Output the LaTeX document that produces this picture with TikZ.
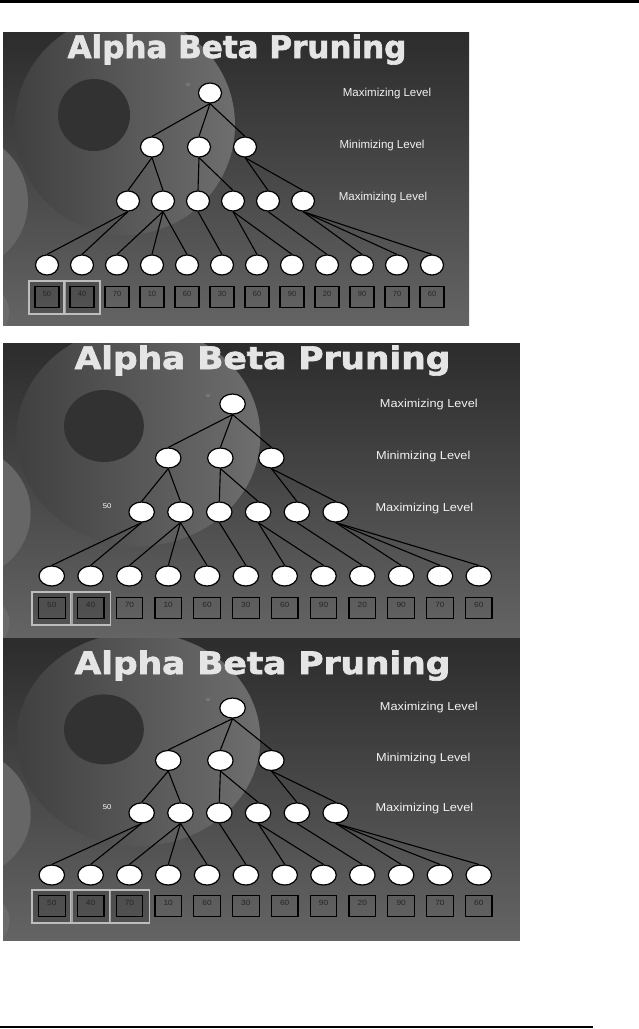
\documentclass[tikz,border=0pt]{standalone}
\usepackage{fontspec}
\setsansfont{Liberation Sans}
\newfontfamily\titlefont{DejaVu Sans Bold}[FakeBold=2]
\usetikzlibrary{shapes.geometric}
\definecolor{slidetop}{HTML}{2C2C2C}
\definecolor{slidebottom}{HTML}{646464}
\definecolor{planetlight}{HTML}{6E6E6E}
\definecolor{planetdark}{HTML}{404040}
\definecolor{craterdark}{HTML}{323232}
\definecolor{labelwhite}{HTML}{F2F2F2}
\definecolor{hlgray}{HTML}{BDBDBD}

\tikzset{
  treenode/.style={ellipse, draw=black, fill=white, line width=1.2pt, minimum width=23pt, minimum height=20pt, inner sep=0pt},
  treeedge/.style={black, line width=1.1pt},
  valbox/.style={rectangle, draw=black, line width=1.2pt, minimum width=24pt, text height=9pt, text depth=11pt, inner ysep=0.5pt, inner xsep=0pt, font=\sffamily\fontsize{7.5}{8}\selectfont, text=black!85},
  hlcell/.style={rectangle, draw=hlgray, line width=1.6pt, fill=black, fill opacity=0.15, minimum width=36pt, minimum height=33pt},
  levellabel/.style={anchor=base, text=labelwhite, font=\sffamily\fontsize{11.5}{12}\selectfont},
  slidetitle/.style={anchor=base, text=white!90!black, font=\titlefont\fontsize{31}{32}\selectfont},
}

% #1 name, #2 #3 origin, #4 #5 scale, #6 #7 top/bottom, #8 marked boxes, #9 side value
\newcommand{\abslide}[9]{%
  \begin{scope}[shift={(#2,#3)}, xscale=#4, yscale=#5]
    \begin{scope}
      \clip (0,#6) rectangle (466,#7);
      \shade[top color=slidetop, bottom color=slidebottom] (0,#6) rectangle (466,#7);
      \fill[black!60] (-45,170) circle (70);
      \fill[black!58] (-22,280) circle (28);
      \shade[left color=planetdark, right color=planetlight] (122,93) circle (110);
      \fill[craterdark] (91,83) circle (36);
    \end{scope}
    \node[slidetitle, xscale=#4] (#1title) at (234,26) {Alpha Beta Pruning};
    \node[levellabel, xscale=#4] (#1maxtop) at (384,64) {Maximizing Level};
    \node[levellabel, xscale=#4] (#1min) at (379,116) {Minimizing Level};
    \node[levellabel, xscale=#4] (#1maxmid) at (380,168) {Maximizing Level};
    \node[treenode, xscale=#4] (#1root) at (207,61) {};
    \node[font=\sffamily\fontsize{4}{4}\selectfont, text=black!40] (#1rootval) at (185,53) {50};
    \node[text=white, font=\sffamily\fontsize{7}{7}\selectfont, xscale=#4] (#1side) at (94,163) {#9};
    \foreach \x [count=\i] in {149,196,242}
      \node[treenode, xscale=#4] (#1a\i) at (\x,115) {};
    \foreach \i in {1,...,6}
      \node[treenode, xscale=#4] (#1b\i) at ({125+35*(\i-1)},169) {};
    \foreach \i in {1,...,12}
      \node[treenode, xscale=#4] (#1leaf\i) at ({44+35*(\i-1)},233) {};
    \foreach \i in {1,...,#8}
      \node[hlcell, xscale=#4] (#1hl\i) at ({44+35*(\i-1)},265.5) {};
    \foreach \v [count=\i] in {50,40,70,10,60,30,60,90,20,90,70,60}
      \node[valbox, xscale=#4] (#1val\i) at ({44+35*(\i-1)},265) {\v};
    \foreach \c in {a1,a2,a3}
      \draw[treeedge] (#1root.south) -- (#1\c.north);
    \foreach \p/\c in {a1/b1,a1/b2,a2/b3,a2/b4,a3/b5,a3/b6,
        b1/leaf1,b1/leaf2,b2/leaf3,b2/leaf4,b2/leaf5,b3/leaf6,
        b4/leaf7,b4/leaf8,b5/leaf9,b6/leaf10,b6/leaf11,b6/leaf12}
      \draw[treeedge] (#1\p.south) -- (#1\c.north);
  \end{scope}}

\begin{document}
\begin{tikzpicture}[x=1pt, y=-1pt]
  \useasboundingbox[fill=white] (0,0) rectangle (639,1029);
  \draw[line width=3pt] (0,1.5) -- (639,1.5);
  \draw[line width=2.5pt] (0,1027) -- (593,1027);
  \abslide{s1}{3}{32}{1}{1}{0}{293}{2}{}
  \abslide{s2}{3}{343}{1.109}{1}{0}{294}{2}{50}
  \abslide{s3}{3}{648.8}{1.109}{0.971}{-11.1}{299.9}{3}{50}
\end{tikzpicture}
\end{document}
